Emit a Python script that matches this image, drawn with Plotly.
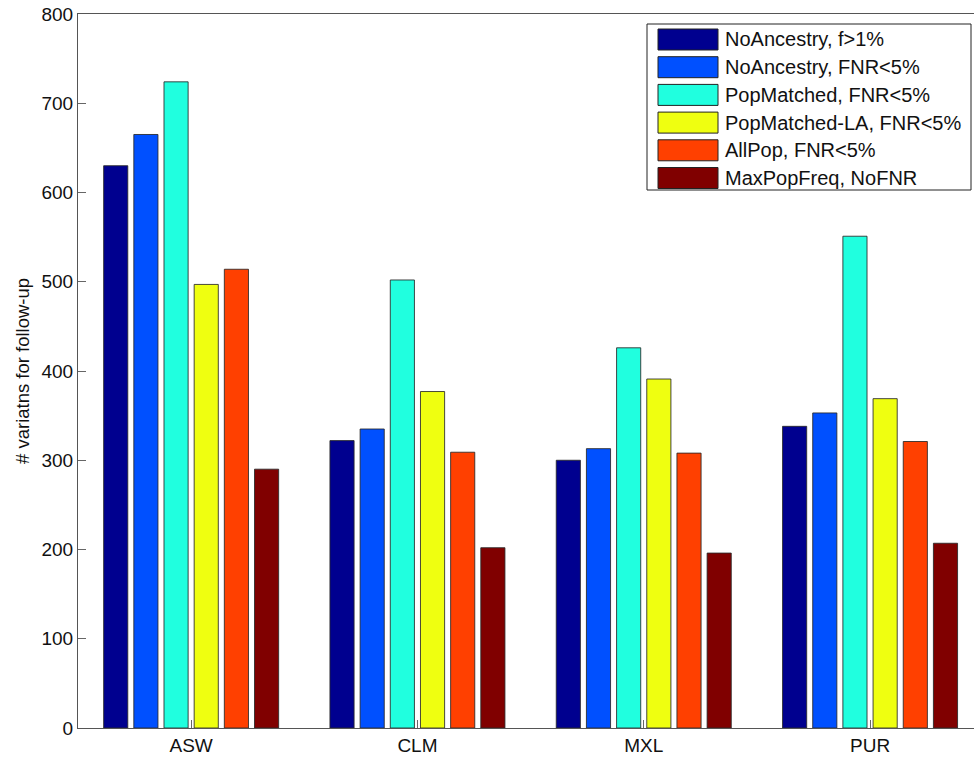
import plotly.graph_objects as go

categories = ["ASW", "CLM", "MXL", "PUR"]
series_names = [
    "NoAncestry, f>1%",
    "NoAncestry, FNR<5%",
    "PopMatched, FNR<5%",
    "PopMatched-LA, FNR<5%",
    "AllPop, FNR<5%",
    "MaxPopFreq, NoFNR",
]
no_ancestry_f1 = [630, 322, 300, 338]
no_ancestry_fnr = [665, 335, 313, 353]
pop_matched = [724, 502, 426, 551]
pop_matched_la = [497, 377, 391, 369]
all_pop = [514, 309, 308, 321]
max_pop_freq = [290, 202, 196, 207]
series_values = [no_ancestry_f1, no_ancestry_fnr, pop_matched,
                 pop_matched_la, all_pop, max_pop_freq]
y_ticks = [0, 100, 200, 300, 400, 500, 600, 700, 800]

colors = ["#00008F", "#0050FF", "#20FFDF", "#EFFF10", "#FF4000", "#800000"]

W, H = 974, 757
L, R, T, B = 78, 0, 14, 29
plot_w = W - L - R
plot_h = H - T - B

FONT = "Liberation Sans, Arial, Helvetica, sans-serif"

fig = go.Figure()
x_idx = list(range(1, len(categories) + 1))
for name, vals, c in zip(series_names, series_values, colors):
    fig.add_trace(go.Bar(
        x=x_idx, y=vals, name=name,
        marker=dict(color=c, line=dict(color="rgba(40,40,40,0.85)", width=1)),
        showlegend=False,
    ))

def px_x(px):
    return (px - L) / plot_w

def px_y(py):
    return (H - B - py) / plot_h

# manual legend (MATLAB-style wide swatches)
shapes = []
annotations = []
shapes.append(dict(type="rect", xref="paper", yref="paper",
                   x0=px_x(647), x1=px_x(971), y0=px_y(190), y1=px_y(24),
                   line=dict(color="#222", width=1), fillcolor="white", layer="above"))
row_y0 = 39.5
row_step = 27.7
for i, (name, c) in enumerate(zip(series_names, colors)):
    cy = row_y0 + i * row_step
    shapes.append(dict(type="rect", xref="paper", yref="paper",
                       x0=px_x(658), x1=px_x(718), y0=px_y(cy + 10.5), y1=px_y(cy - 10.5),
                       line=dict(color="#222", width=1), fillcolor=c, layer="above"))
    annotations.append(dict(xref="paper", yref="paper", x=px_x(723), y=px_y(cy),
                            xanchor="left", yanchor="middle", text=name, showarrow=False,
                            font=dict(family=FONT, size=20, color="#111")))

annotations.append(dict(xref="paper", yref="paper", x=px_x(22), y=px_y(371),
                        xanchor="center", yanchor="middle", text="# variatns for follow-up",
                        textangle=-90, showarrow=False,
                        font=dict(family=FONT, size=18.5, color="#111")))

fig.update_layout(
    width=W, height=H,
    margin=dict(l=L, r=R, t=T, b=B, pad=0),
    paper_bgcolor="white", plot_bgcolor="white",
    barmode="group", bargap=0.2, bargroupgap=0.2,
    font=dict(family=FONT, size=19, color="#111"),
    shapes=shapes, annotations=annotations,
)
fig.update_xaxes(
    range=[0.5, 0.5 + plot_w / 226.3], tickmode="array", tickvals=x_idx, ticktext=categories,
    ticks="inside", ticklen=8, tickcolor="#666", showline=True, linecolor="#555",
    linewidth=1, mirror=True, showgrid=False, zeroline=False, automargin=False,
    tickfont=dict(family=FONT, size=19, color="#111"),
)
fig.update_yaxes(
    range=[0, 800], tickmode="array", tickvals=y_ticks,
    ticks="inside", ticklen=8, tickcolor="#666", showline=True, linecolor="#555",
    linewidth=1, mirror=False, showgrid=False, zeroline=False, automargin=False,
    tickfont=dict(family=FONT, size=19, color="#111"),
)

fig.write_html("out.html")
